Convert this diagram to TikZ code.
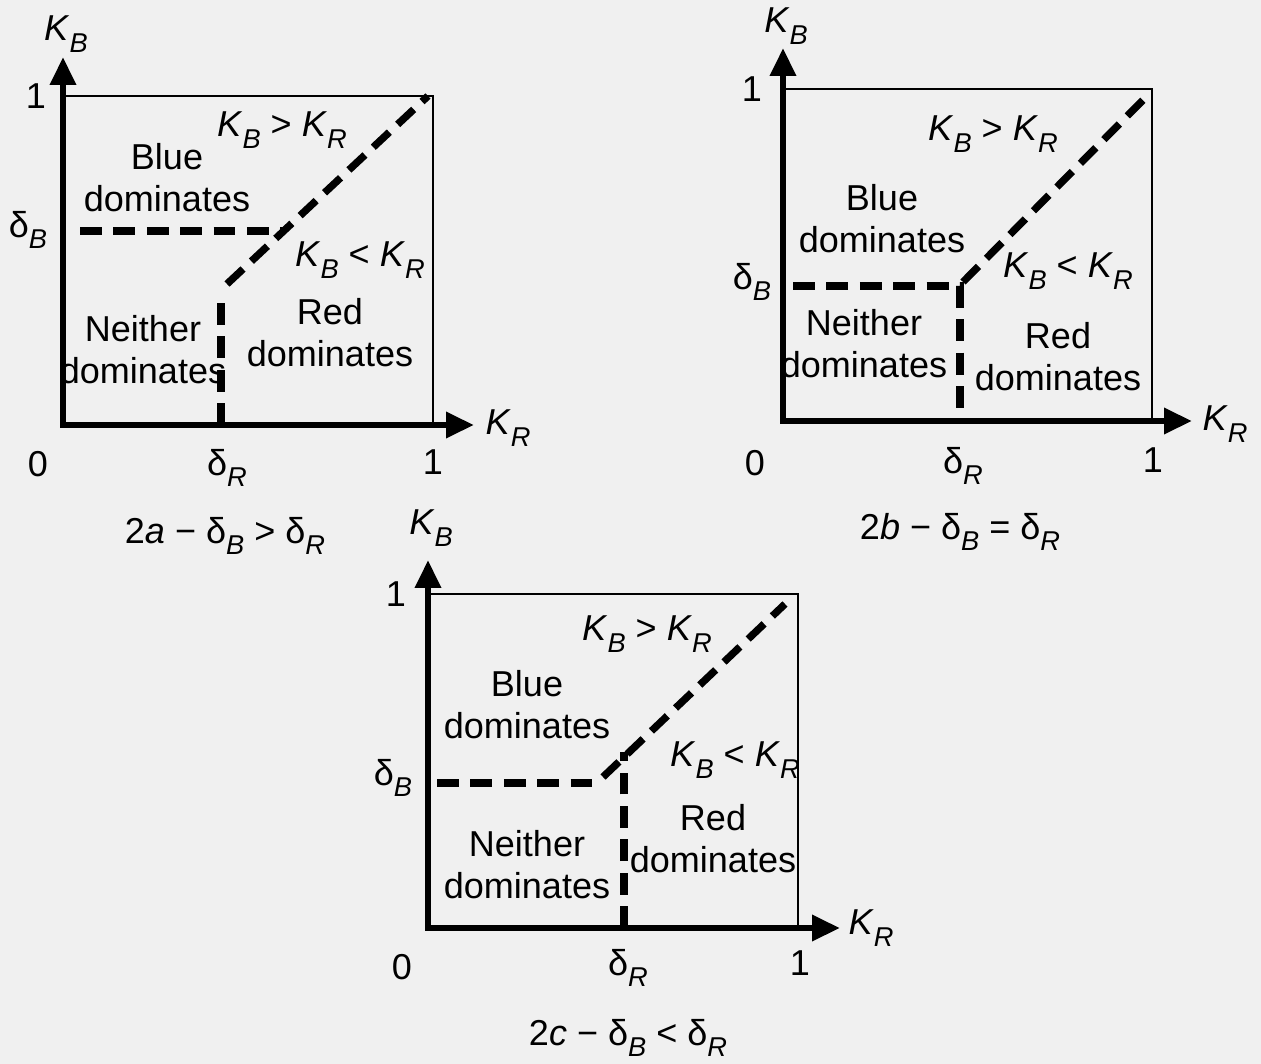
\documentclass[tikz,border=0pt]{standalone}
\usepackage{fontspec}
\setmainfont{Liberation Sans}
\usetikzlibrary{arrows.meta}
\newcommand{\lowsub}[1]{\raisebox{-0.32em}{\fontsize{15.5pt}{15pt}\selectfont\textit{#1}}}
\newcommand{\KK}[1]{\textit{K}\lowsub{#1}}
\newcommand{\dd}[1]{δ\lowsub{#1}}

\begin{document}
\begin{tikzpicture}[x=0.02cm,y=-0.02cm,
  axis/.style={line width=3.8pt,line join=miter,{Triangle[length=0.56cm,width=0.5cm]}-{Triangle[length=0.56cm,width=0.5cm]}},
  frame/.style={line width=1.1pt},
  split/.style={line width=4.2pt,dash pattern=on 12.5pt off 6.5pt},
  lbl/.style={inner sep=0pt,font=\fontsize{20.5pt}{24pt}\selectfont,align=center}]
\fill[black!6] (0,0) rectangle (1261,1064);

% (a)
\coordinate (aO) at (63,425);
\coordinate (aY) at (63,57);
\coordinate (aX) at (474,425);
\draw[frame] (63,96) -- (433,96) -- (433,425);
\draw[axis] (aY) -- (aO) -- (aX);
\coordinate (aB) at (80,231);
\coordinate (aM) at (284,231);
\coordinate (aD) at (227,284);
\coordinate (aT) at (428,96);
\coordinate (aR) at (221,297);
\coordinate (aS) at (221,425);
\draw[split] (aB) -- (aM);
\draw[split] (aD) -- (aT);
\draw[split] (aS) -- (aR);
\node[lbl] (aky) at (66,34) {\KK{B}};
\node[lbl] (a1y) at (36,96) {1};
\node[lbl] (adb) at (28,230) {\dd{B}};
\node[lbl] (a0) at (38,464) {0};
\node[lbl] (adr) at (227,468) {\dd{R}};
\node[lbl] (a1x) at (433,462) {1};
\node[lbl] (akx) at (508,428) {\KK{R}};
\node[lbl] (agt) at (282,130) {\KK{B} > \KK{R}};
\node[lbl] (alt) at (360,260) {\KK{B} < \KK{R}};
\node[lbl] (ablue) at (167,178) {Blue\\dominates};
\node[lbl] (anone) at (143,350) {Neither\\dominates};
\node[lbl] (ared) at (330,333) {Red\\dominates};
\node[lbl] (acap) at (225,536) {2\textit{a} − \dd{B} > \dd{R}};

% (b)
\coordinate (bO) at (783,421);
\coordinate (bY) at (783,48);
\coordinate (bX) at (1192,421);
\draw[frame] (783,89) -- (1152,89) -- (1152,421);
\draw[axis] (bY) -- (bO) -- (bX);
\coordinate (bB) at (793,286);
\coordinate (bM) at (960,286);
\coordinate (bS) at (960,421);
\coordinate (bD) at (963,282);
\coordinate (bT) at (1147,96);
\draw[split] (bB) -- (bM) -- (bS);
\draw[split] (bD) -- (bT);
\node[lbl] (bky) at (786,26) {\KK{B}};
\node[lbl] (b1y) at (752,89) {1};
\node[lbl] (bdb) at (752,282) {\dd{B}};
\node[lbl] (b0) at (755,463) {0};
\node[lbl] (bdr) at (963,466) {\dd{R}};
\node[lbl] (b1x) at (1153,460) {1};
\node[lbl] (bkx) at (1225,424) {\KK{R}};
\node[lbl] (bgt) at (993,134) {\KK{B} > \KK{R}};
\node[lbl] (blt) at (1068,271) {\KK{B} < \KK{R}};
\node[lbl] (bblue) at (882,219) {Blue\\dominates};
\node[lbl] (bnone) at (864,344) {Neither\\dominates};
\node[lbl] (bred) at (1058,357) {Red\\dominates};
\node[lbl] (bcap) at (960,532) {2\textit{b} − \dd{B} = \dd{R}};

% (c)
\coordinate (cO) at (428,928);
\coordinate (cY) at (428,560);
\coordinate (cX) at (840,928);
\draw[frame] (428,594) -- (798,594) -- (798,928);
\draw[axis] (cY) -- (cO) -- (cX);
\coordinate (cB) at (437,783);
\coordinate (cM) at (597,783);
\coordinate (cD) at (603,777);
\coordinate (cT) at (785,604);
\coordinate (cR) at (624,752);
\coordinate (cS) at (624,928);
\draw[split] (cB) -- (cM);
\draw[split] (cD) -- (cT);
\draw[split] (cS) -- (cR);
\node[lbl] (cky) at (431,528) {\KK{B}};
\node[lbl] (c1y) at (396,594) {1};
\node[lbl] (cdb) at (393,778) {\dd{B}};
\node[lbl] (c0) at (402,967) {0};
\node[lbl] (cdr) at (628,968) {\dd{R}};
\node[lbl] (c1x) at (800,963) {1};
\node[lbl] (ckx) at (871,928) {\KK{R}};
\node[lbl] (cgt) at (647,634) {\KK{B} > \KK{R}};
\node[lbl] (clt) at (735,760) {\KK{B} < \KK{R}};
\node[lbl] (cblue) at (527,705) {Blue\\dominates};
\node[lbl] (cnone) at (527,865) {Neither\\dominates};
\node[lbl] (cred) at (713,839) {Red\\dominates};
\node[lbl] (ccap) at (628,1038) {2\textit{c} − \dd{B} < \dd{R}};
\end{tikzpicture}
\end{document}
